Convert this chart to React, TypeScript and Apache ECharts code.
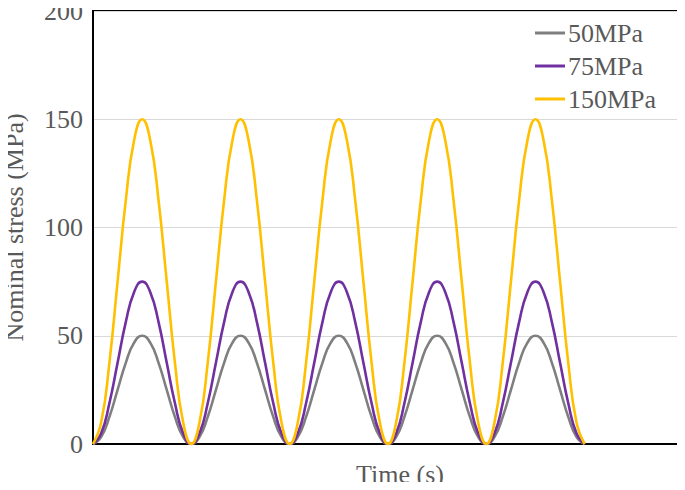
import React, { useEffect, useRef } from "react";
import * as echarts from "echarts";

// time in steps of 1/12 of a loading cycle (12 steps per cycle)
const time = [
  0, 1, 2, 3, 4, 5, 6, 7, 8, 9, 10, 11, 12, 13, 14, 15, 16, 17, 18, 19, 20,
  21, 22, 23, 24, 25, 26, 27, 28, 29, 30, 31, 32, 33, 34, 35, 36, 37, 38, 39,
  40, 41, 42, 43, 44, 45, 46, 47, 48, 49, 50, 51, 52, 53, 54, 55, 56, 57, 58,
  59, 60,
];

const s50 = [
  0, 3.3, 12.5, 25, 37.5, 46.7, 50, 46.7, 37.5, 25, 12.5, 3.3,
  0, 3.3, 12.5, 25, 37.5, 46.7, 50, 46.7, 37.5, 25, 12.5, 3.3,
  0, 3.3, 12.5, 25, 37.5, 46.7, 50, 46.7, 37.5, 25, 12.5, 3.3,
  0, 3.3, 12.5, 25, 37.5, 46.7, 50, 46.7, 37.5, 25, 12.5, 3.3,
  0, 3.3, 12.5, 25, 37.5, 46.7, 50, 46.7, 37.5, 25, 12.5, 3.3,
  0,
];

const s75 = [
  0, 5, 18.8, 37.5, 56.3, 70, 75, 70, 56.3, 37.5, 18.8, 5,
  0, 5, 18.8, 37.5, 56.3, 70, 75, 70, 56.3, 37.5, 18.8, 5,
  0, 5, 18.8, 37.5, 56.3, 70, 75, 70, 56.3, 37.5, 18.8, 5,
  0, 5, 18.8, 37.5, 56.3, 70, 75, 70, 56.3, 37.5, 18.8, 5,
  0, 5, 18.8, 37.5, 56.3, 70, 75, 70, 56.3, 37.5, 18.8, 5,
  0,
];

const s150 = [
  0, 10, 37.5, 75, 112.5, 140, 150, 140, 112.5, 75, 37.5, 10,
  0, 10, 37.5, 75, 112.5, 140, 150, 140, 112.5, 75, 37.5, 10,
  0, 10, 37.5, 75, 112.5, 140, 150, 140, 112.5, 75, 37.5, 10,
  0, 10, 37.5, 75, 112.5, 140, 150, 140, 112.5, 75, 37.5, 10,
  0, 10, 37.5, 75, 112.5, 140, 150, 140, 112.5, 75, 37.5, 10,
  0,
];

const seriesNames = ["50MPa", "75MPa", "150MPa"];
const seriesColors = ["#7f7f7f", "#7030a0", "#ffc000"];
const seriesValues = [s50, s75, s150];

const FONT = "Liberation Serif, Times New Roman, serif";
const TEXT = "#595959";

export default function App() {
  const ref = useRef<HTMLDivElement>(null);

  useEffect(() => {
    if (!ref.current) return;
    const chart = echarts.init(ref.current, undefined, { renderer: "svg" });
    chart.setOption({
      animation: false,
      backgroundColor: "#ffffff",
      grid: {
        left: 93,
        right: 2,
        top: 11,
        bottom: 46,
        containLabel: false,
        outerBoundsMode: "none",
        show: true,
        borderColor: "#000",
        borderWidth: 2,
        backgroundColor: "transparent",
      },
      legend: {
        orient: "vertical",
        left: 535,
        top: 20,
        padding: 0,
        itemWidth: 30,
        itemHeight: 3,
        itemGap: 7,
        icon: "rect",
        textStyle: { fontFamily: FONT, fontSize: 26, color: TEXT, padding: [0, 0, 0, -2] },
        data: seriesNames,
      },
      xAxis: {
        type: "value",
        min: 0,
        max: 72,
        name: "Time (s)",
        nameLocation: "middle",
        nameGap: 17,
        nameTextStyle: {
          fontFamily: FONT,
          fontSize: 26,
          lineHeight: 26,
          color: TEXT,
          verticalAlign: "top",
          padding: [0, 0, 0, 24],
        },
        axisLine: { show: true, lineStyle: { color: "#000", width: 2 } },
        axisTick: { show: false },
        axisLabel: { show: false },
        splitLine: { show: false },
      },
      yAxis: {
        type: "value",
        min: 0,
        max: 200,
        interval: 50,
        name: "Nominal stress (MPa)",
        nameLocation: "middle",
        nameGap: 66,
        nameTextStyle: { fontFamily: FONT, fontSize: 26, color: TEXT },
        axisLine: { show: true, lineStyle: { color: "#000", width: 2 } },
        axisTick: { show: false },
        axisLabel: { fontFamily: FONT, fontSize: 26, lineHeight: 20, color: TEXT, margin: 10 },
        splitLine: { show: true, lineStyle: { color: "#d9d9d9", width: 1 } },
      },
      series: seriesNames.map((name, i) => ({
        name,
        type: "line",
        data: time.map((t, j) => [t, seriesValues[i][j]]),
        smooth: 0.5,
        symbol: "none",
        showSymbol: false,
        color: seriesColors[i],
        lineStyle: { color: seriesColors[i], width: 2.6 },
      })),
    });
    return () => chart.dispose();
  }, []);

  return <div ref={ref} style={{ width: 685, height: 490, margin: -8 }} />;
}
